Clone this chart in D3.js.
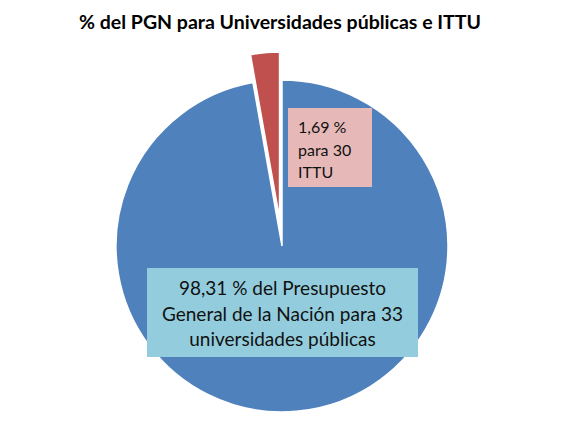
<!DOCTYPE html>
<html lang="es">
<head>
<meta charset="UTF-8">
<title>% del PGN para Universidades públicas e ITTU</title>
<script src="https://d3js.org/d3.v7.min.js"></script>
<style>
  body { margin: 0; background: #fff; }
  text { font-family: Lato, "Open Sans", sans-serif; }
</style>
</head>
<body>
<div id="chart"></div>
<script>
// data
const categories = ["Universidades públicas", "ITTU"];
const values = [97.2, 2.8];   // slice sizes as drawn in the picture
const labels = [
  ["98,31 % del Presupuesto", "General de la Nación para 33", "universidades públicas"],
  ["1,69 %", "para 30", "ITTU"]
];
const colors = ["#4F81BD", "#C0504D"];
const boxFills = ["#93CDDD", "#E6B9B8"];

const width = 563, height = 428;
const cx = 282, cy = 246, r = 166;

const svg = d3.select("#chart").append("svg")
  .attr("width", width).attr("height", height);

svg.append("text")
  .attr("x", 280).attr("y", 29)
  .attr("text-anchor", "middle")
  .attr("font-size", 19.5).attr("font-weight", "bold")
  .text("% del PGN para Universidades públicas e ITTU");

const pie = d3.pie().sort(null).value(d => d)(values);
const arc = d3.arc().innerRadius(0).outerRadius(r);

const g = svg.append("g").attr("transform", `translate(${cx},${cy})`);

// explode the small slice
const explode = [0, 28];
g.selectAll("path")
  .data(pie)
  .enter().append("path")
  .attr("d", arc)
  .attr("fill", (d, i) => colors[i])
  .attr("stroke", "#fff")
  .attr("stroke-width", 1.5)
  .attr("transform", (d, i) => {
    const a = (d.startAngle + d.endAngle) / 2;
    return `translate(${Math.sin(a) * explode[i]},${-Math.cos(a) * explode[i]})`;
  });

// label boxes
const boxes = [
  { x: 147, y: 268, w: 271, h: 89, anchor: "middle", fs: 19, lh: 25.5, tx: 135.5, ty: 27 },
  { x: 288, y: 108, w: 84, h: 79, anchor: "start", fs: 16, lh: 22.5, tx: 10, ty: 25 }
];

boxes.forEach((b, i) => {
  const bg = svg.append("g").attr("transform", `translate(${b.x},${b.y})`);
  bg.append("rect").attr("width", b.w).attr("height", b.h).attr("fill", boxFills[i]);
  bg.selectAll("text")
    .data(labels[i])
    .enter().append("text")
    .attr("x", b.tx)
    .attr("y", (d, j) => b.ty + j * b.lh)
    .attr("text-anchor", b.anchor)
    .attr("font-size", b.fs)
    .attr("fill", "#111")
    .text(d => d);
});
</script>
</body>
</html>
